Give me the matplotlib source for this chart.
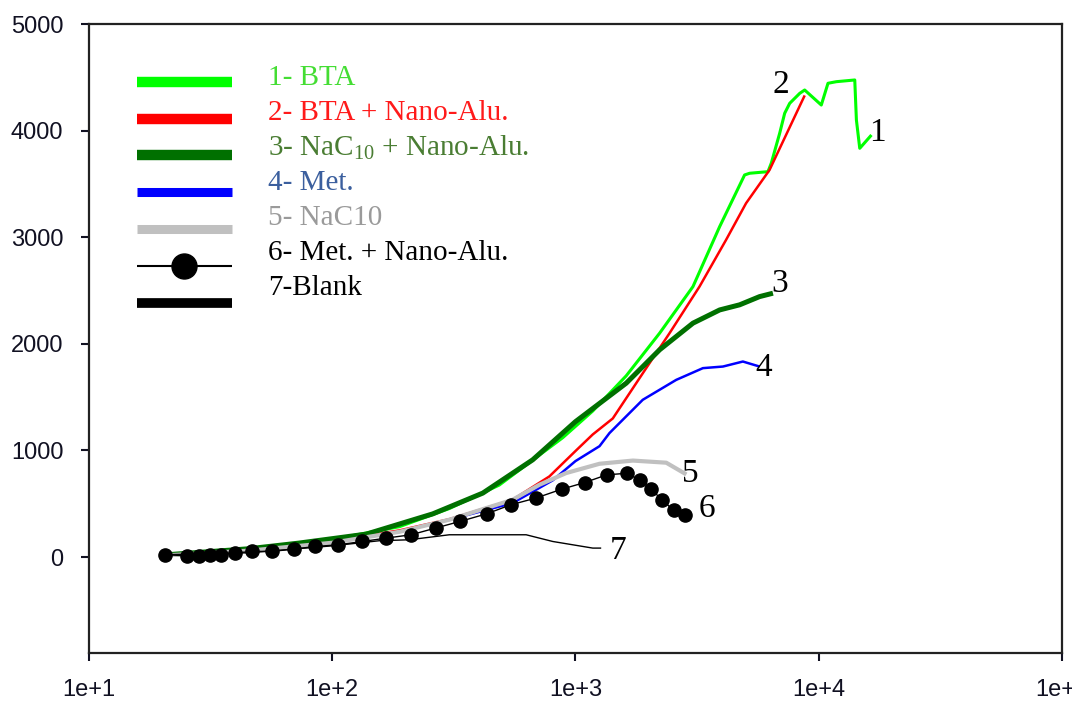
import matplotlib
matplotlib.use("Agg")
import matplotlib.pyplot as plt
from matplotlib.lines import Line2D
from matplotlib.ticker import FixedLocator, NullLocator

plt.rcParams["mathtext.fontset"] = "custom"
plt.rcParams["mathtext.rm"] = "Liberation Serif"
plt.rcParams["mathtext.it"] = "Liberation Serif:italic"

# Curve 1 - BTA
x1 = [20.5, 45.5, 100, 189, 303, 486, 887, 1178, 1617, 2218, 3042, 3917, 4959, 5200,
      6186, 6383, 6912, 7248, 7600, 8360, 8758, 10250, 10920, 11820, 14070, 14290,
      14750, 16480]
y1 = [15, 70, 165, 285, 455, 675, 1120, 1370, 1700, 2100, 2537, 3100, 3584, 3600,
      3615, 3694, 3975, 4163, 4256, 4350, 4381, 4240, 4444, 4459, 4475, 4100,
      3834, 3959]

# Curve 2 - BTA + Nano-Alu.
x2 = [20.5, 45.5, 100, 189, 303, 551, 781, 1006, 1178, 1424, 1893, 2437, 3236, 4161,
      5029, 6280, 8760]
y2 = [15, 65, 150, 250, 355, 537, 756, 1000, 1150, 1300, 1725, 2100, 2537, 2975,
      3319, 3631, 4330]

# Curve 3 - NaC10 + Nano-Alu.
x3 = [20.5, 45.5, 73, 138, 259, 416, 667, 1000, 1617, 2218, 3042, 3917, 4732,
      5715, 6486]
y3 = [20, 78, 131, 215, 405, 600, 912, 1270, 1631, 1944, 2194, 2318, 2366,
      2443, 2475]

# Curve 4 - Met.
x4 = [20.5, 45.5, 100, 189, 303, 551, 807, 1000, 1256, 1380, 1891, 2596, 3342, 4040,
      4879, 5715]
y4 = [15, 60, 134, 237, 350, 506, 720, 900, 1040, 1163, 1475, 1662, 1772, 1787,
      1834, 1787]

# Curve 5 - NaC10
x5 = [20.5, 45.5, 100, 189, 303, 551, 711, 916, 1256, 1722, 2362, 2857]
y5 = [15, 60, 134, 237, 350, 537, 678, 788, 875, 905, 885, 775]

# Curve 6 - Met. + Nano-Alu.
x6 = [20.5, 25.3, 28.4, 31.5, 34.8, 39.9, 46.9, 56.7, 69.4, 85.3, 106, 133, 167, 211,
      266, 335, 432, 542, 687, 879, 1092, 1343, 1629, 1842, 2037, 2272, 2531, 2822]
y6 = [22, 12, 12, 22, 22, 38, 53, 53, 75, 99, 115, 146, 178, 209,
      272, 334, 406, 490, 553, 637, 699, 771, 786, 721, 643, 534, 440, 396]

# Curve 7 - Blank
x7 = [20.5, 45.5, 101, 156, 207, 303, 627, 807, 1178, 1276]
y7 = [22, 40, 106, 153, 162, 209, 209, 146, 84, 84]

series = [
    (x1, y1, dict(color="#00ff00", lw=2.2)),
    (x2, y2, dict(color="#ff0000", lw=1.8)),
    (x3, y3, dict(color="#007000", lw=3.6)),
    (x4, y4, dict(color="#0000ff", lw=1.8)),
    (x5, y5, dict(color="#c0c0c0", lw=3.0)),
    (x6, y6, dict(color="black", lw=1.0, marker="o", ms=9.5)),
    (x7, y7, dict(color="black", lw=1.0)),
]

labels = ["1- BTA", "2- BTA + Nano-Alu.", "3- NaC$_{\\mathrm{10}}$ + Nano-Alu.",
          "4- Met.", "5- NaC10", "6- Met. + Nano-Alu.", "7-Blank"]
label_colors = ["#44dd33", "#ff1a1a", "#4a7d33", "#3b5f9e", "#9a9a9a", "black", "black"]

# curve number tags
tag_text = ["1", "2", "3", "4", "5", "6", "7"]
tag_x = [17500, 6980, 6920, 5940, 2970, 3460, 1503]
tag_y = [3978, 4428, 2562, 1775, 781, 453, 59]

fig = plt.figure(figsize=(10.72, 7.02), dpi=100)
ax = fig.add_axes([0.0830, 0.0698, 0.9076, 0.8960])

for xs, ys, kw in series:
    ax.plot(xs, ys, solid_capstyle="butt", **kw)

for t, tx, ty in zip(tag_text, tag_x, tag_y):
    ax.text(tx, ty, t, fontsize=24, family="Liberation Serif", ha="center", va="center")

ax.set_xscale("log")
ax.set_xlim(10, 1e5)
ax.set_ylim(-900, 5000)
ax.xaxis.set_major_locator(FixedLocator([1e1, 1e2, 1e3, 1e4, 1e5]))
ax.xaxis.set_minor_locator(NullLocator())
ax.set_xticklabels(["1e+1", "1e+2", "1e+3", "1e+4", "1e+5"])
ax.set_yticks([0, 1000, 2000, 3000, 4000, 5000])
ax.tick_params(direction="out", length=5.5, width=1.5, labelsize=17, colors="#111122")
ax.tick_params(axis="x", pad=13)
ax.tick_params(axis="y", pad=13)
for lab in ax.get_xticklabels() + ax.get_yticklabels():
    lab.set_family("Liberation Sans")
for sp in ax.spines.values():
    sp.set_linewidth(1.6)
    sp.set_color("#222222")

# hand-placed legend like the original text box
handle_kw = [
    dict(color="#00ff00", lw=7.5),
    dict(color="#ff0000", lw=7.5),
    dict(color="#007000", lw=7.5),
    dict(color="#0000ff", lw=6.5),
    dict(color="#c0c0c0", lw=6.5),
    dict(color="black", lw=1.5, marker="o", ms=18, markevery=[1]),
    dict(color="black", lw=7.0),
]
for i, (lab, col, kw) in enumerate(zip(labels, label_colors, handle_kw)):
    hy = 0.908 - i * 0.0585
    ty = 0.914 - i * 0.0557
    ax.add_line(Line2D([0.049, 0.098, 0.147], [hy, hy, hy], transform=ax.transAxes,
                       solid_capstyle="butt", **kw))
    ax.text(0.184, ty, lab, transform=ax.transAxes, color=col, fontsize=21,
            family="Liberation Serif", va="center", ha="left")

fig.savefig("out.png", dpi=100)
